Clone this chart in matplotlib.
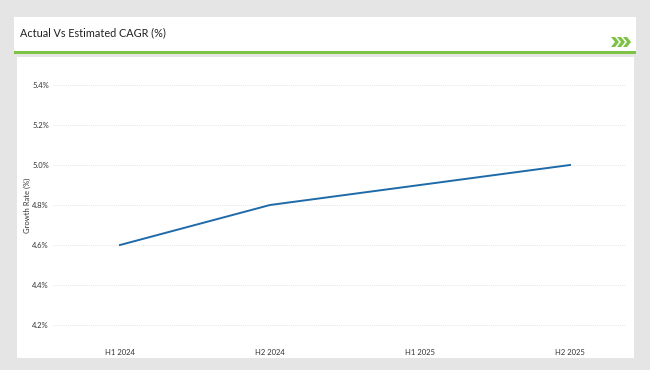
import matplotlib.pyplot as plt
from matplotlib.patches import Rectangle, Polygon

periods = ['H1 2024', 'H2 2024', 'H1 2025', 'H2 2025']
growth = [4.6, 4.8, 4.9, 5.0]
yticks = [4.2, 4.4, 4.6, 4.8, 5.0, 5.2, 5.4]

plt.rcParams['font.family'] = ['Lato', 'DejaVu Sans']

W, H = 650, 370
fig = plt.figure(figsize=(W / 100, H / 100), dpi=100)
fig.patch.set_facecolor('#e5e5e5')


def box(x0, y0, x1, y1, color):
    # pixel box (top-left origin) -> figure coords
    fig.patches.append(Rectangle((x0 / W, 1 - y1 / H), (x1 - x0) / W, (y1 - y0) / H,
                                 transform=fig.transFigure, facecolor=color,
                                 edgecolor='none', zorder=-5))


box(14, 17, 636, 51, 'white')
box(14, 51, 636, 54, '#7dc242')
box(17, 57, 634, 358, 'white')

fig.text(20 / W, 1 - 33 / H, 'Actual Vs Estimated CAGR (%)', fontsize=7.8,
         color='#222222', va='center', ha='left')

# chevrons
for i in range(3):
    x = 611 + i * 6
    pts = [(x, 37), (x + 4, 37), (x + 8, 42), (x + 4, 47), (x, 47), (x + 4, 42)]
    fig.patches.append(Polygon([(px / W, 1 - py / H) for px, py in pts], closed=True,
                               transform=fig.transFigure, facecolor='#7dc242',
                               edgecolor='none'))

ax = fig.add_axes([53 / W, 1 - 345 / H, (625 - 53) / W, (345 - 65) / H])
ax.set_zorder(5)
ax.set_facecolor('none')
x = list(range(len(periods)))
ax.plot(x, growth, color='#1f6aa8', linewidth=1.4)

ax.set_xlim((53 - 120) / 150, (625 - 120) / 150)
ax.set_ylim(4.1, 5.5)
ax.set_yticks(yticks)
ax.set_yticklabels([f'{v:.1f}%' for v in yticks])
ax.set_xticks(x)
ax.set_xticklabels(periods)
ax.tick_params(axis='both', length=0, labelsize=5.5, colors='#333333')
ax.tick_params(axis='y', pad=3)
ax.tick_params(axis='x', pad=3)
ax.grid(axis='y', linestyle=(0, (1, 1.5)), color='#dddddd', linewidth=0.6)
for s in ax.spines.values():
    s.set_visible(False)
ax.set_ylabel('Growth Rate (%)', fontsize=5.5, color='#333333', labelpad=1)

fig.savefig('out.png', dpi=100, facecolor=fig.get_facecolor())
